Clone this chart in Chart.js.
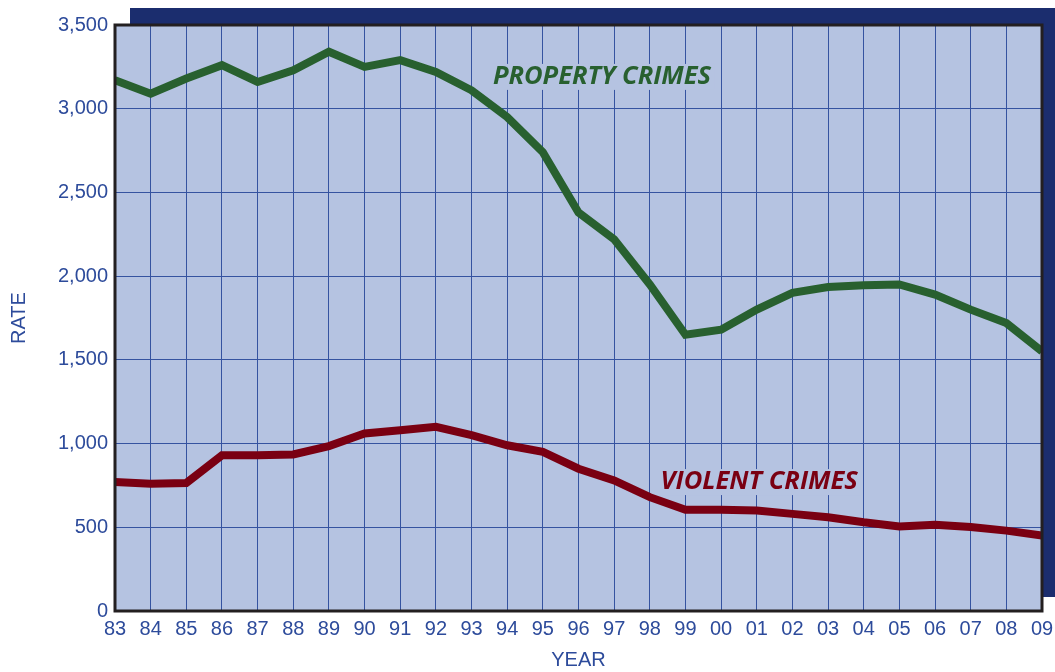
<!DOCTYPE html><html lang="en">
<head>
    <meta charset="UTF-8">
    <title>Property and Violent Crimes Rate</title>
    <script src="https://cdn.jsdelivr.net/npm/chart.js"></script>
    <style>
        body { margin: 0; background: #fff; }
        #wrap { width: 1055px; height: 672px; }
    </style>
</head>
<body>
    <div id="wrap"><canvas id="crimeChart" width="1055" height="672"></canvas></div>
<script>
    const years = ["83","84","85","86","87","88","89","90","91","92","93","94","95","96","97","98","99","00","01","02","03","04","05","06","07","08","09"];
    const propertyCrimes = [3170,3090,3180,3260,3160,3230,3340,3250,3290,3220,3110,2950,2740,2380,2220,1950,1650,1680,1800,1900,1935,1945,1950,1890,1800,1720,1550];
    const violentCrimes = [770,760,765,930,930,935,985,1060,1080,1100,1050,990,950,850,780,680,605,605,600,580,560,530,505,515,502,480,450];
    const yTicks = [0,500,1000,1500,2000,2500,3000,3500];

    const textBlue = "#2d4b9b";
    const plotBg = "#b5c3e1";
    const tickFont = { family: "'Liberation Sans', Arial", size: 20 };

    // panel shadow, plot fill, border and the two in-plot labels
    const panelPlugin = {
        id: "panel",
        beforeDraw(chart) {
            const { ctx, chartArea: a } = chart;
            ctx.save();
            ctx.fillStyle = "#1b2d6e";
            ctx.fillRect(a.left + 15, a.top - 17, chart.width, a.bottom - a.top + 3);
            ctx.fillStyle = plotBg;
            ctx.fillRect(a.left, a.top, a.right - a.left, a.bottom - a.top);
            ctx.restore();
        },
        afterDraw(chart) {
            const { ctx, chartArea: a, scales } = chart;
            ctx.save();
            ctx.strokeStyle = "#231f20";
            ctx.lineWidth = 3;
            ctx.strokeRect(a.left, a.top, a.right - a.left, a.bottom - a.top);

            const labels = [
                { text: "PROPERTY CRIMES", x: 10.6, y: 3190, color: "#28602f" },
                { text: "VIOLENT CRIMES", x: 15.3, y: 770, color: "#7a0012" }
            ];
            ctx.font = "italic bold 25.5px 'Open Sans', sans-serif";
            ctx.textBaseline = "middle";
            ctx.textAlign = "left";
            labels.forEach(l => {
                const px = scales.x.getPixelForValue(l.x);
                const py = scales.y.getPixelForValue(l.y);
                const w = ctx.measureText(l.text).width;
                ctx.fillStyle = plotBg;
                ctx.fillRect(px - 3, py - 13, w + 6, 26);
                ctx.fillStyle = l.color;
                ctx.fillText(l.text, px, py);
            });
            ctx.restore();
        }
    };

    new Chart(document.getElementById("crimeChart"), {
        type: "line",
        data: {
            labels: years,
            datasets: [
                { label: "Property Crimes", data: propertyCrimes, borderColor: "#28602f", borderWidth: 8, pointRadius: 0, tension: 0, clip: 0 },
                { label: "Violent Crimes", data: violentCrimes, borderColor: "#7a0012", borderWidth: 8, pointRadius: 0, tension: 0, clip: 0 }
            ]
        },
        options: {
            responsive: false,
            animation: false,
            layout: { padding: { top: 25, right: 13, left: 0, bottom: 0 } },
            plugins: { legend: { display: false }, tooltip: { enabled: false } },
            scales: {
                x: {
                    grid: { color: "#3553a0", lineWidth: 1, drawTicks: false },
                    border: { display: false },
                    ticks: { color: textBlue, font: tickFont, padding: 6, maxRotation: 0, autoSkip: false },
                    title: { display: true, text: "YEAR", color: textBlue, font: tickFont, padding: { top: 4, bottom: 0 } },
                    afterFit: s => { s.height = 61; s.paddingLeft = 0; s.paddingRight = 0; }
                },
                y: {
                    min: 0, max: 3500,
                    afterBuildTicks: s => { s.ticks = yTicks.map(v => ({ value: v })); },
                    grid: { color: "#3553a0", lineWidth: 1, drawTicks: false },
                    border: { display: false },
                    ticks: { color: textBlue, font: tickFont, padding: 7,
                        callback: v => v.toLocaleString("en-US") },
                    title: { display: true, text: "RATE", color: textBlue, font: tickFont, padding: { top: 7, bottom: 4 } },
                    afterFit: s => { s.width = 115; s.paddingTop = 0; s.paddingBottom = 0; }
                }
            }
        },
        plugins: [panelPlugin]
    });
</script>
</body>
</html>
